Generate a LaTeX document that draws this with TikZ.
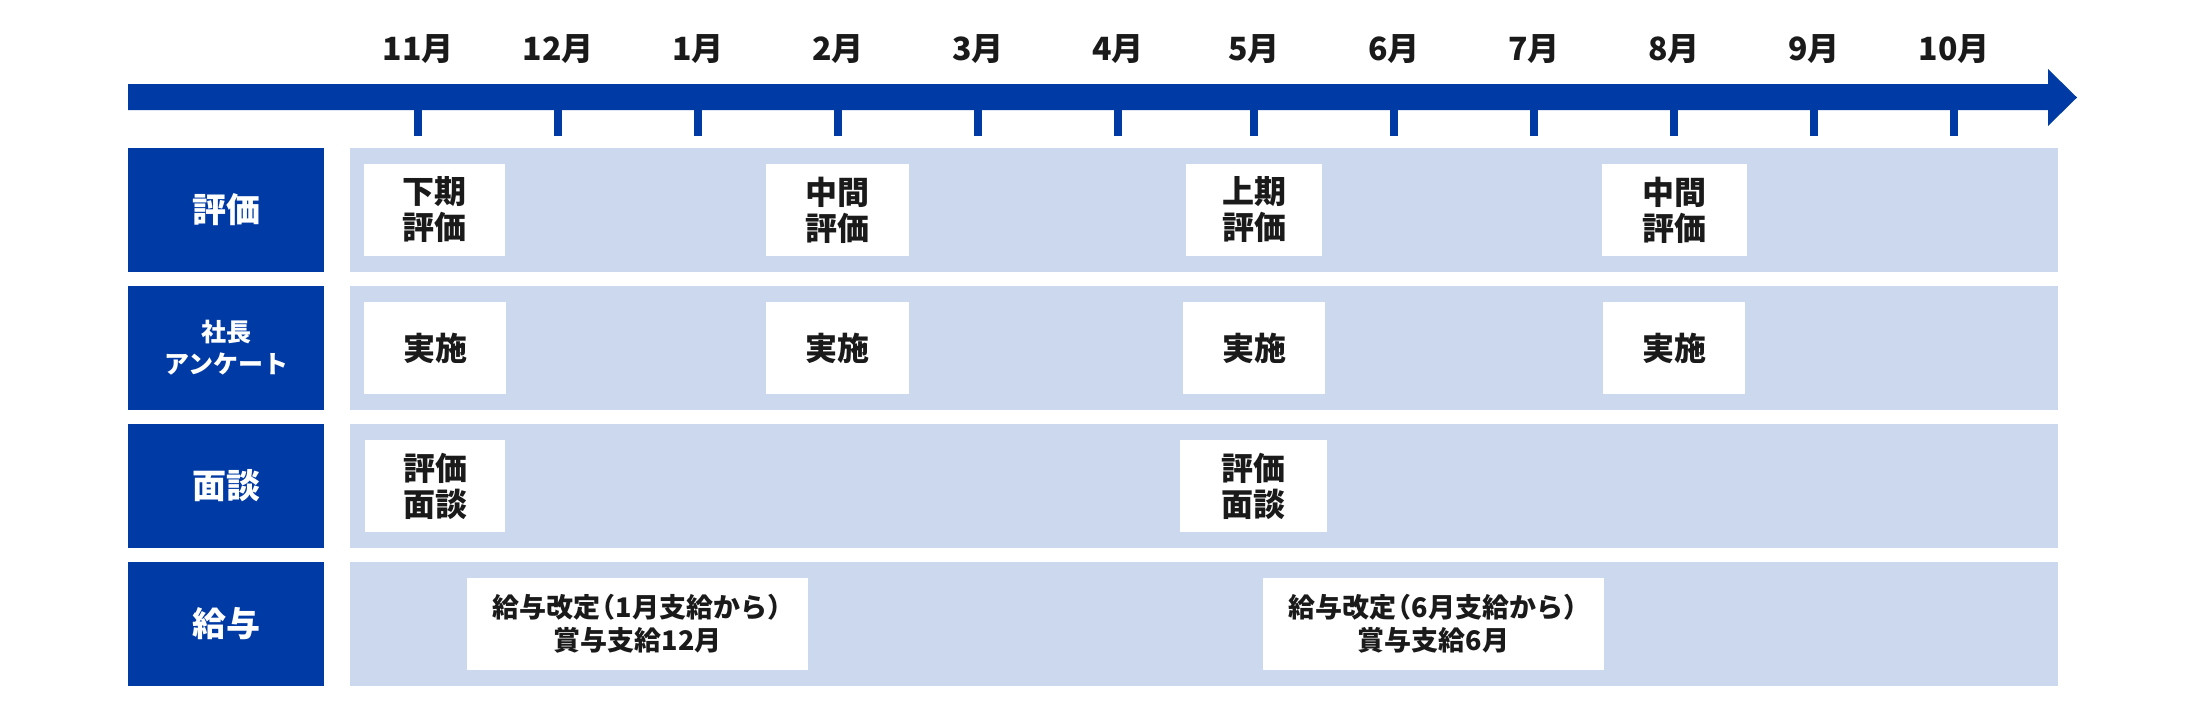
\documentclass[tikz,border=0pt]{standalone}
\usepackage{fontspec}
\setmainfont{Noto Sans CJK JP}
\definecolor{navy}{RGB}{0,58,165}
\definecolor{pale}{RGB}{204,216,237}
\definecolor{ink}{RGB}{26,26,26}
\tikzset{
  lab/.style={fill=navy, text=white, minimum width=196pt, minimum height=124pt, inner sep=0pt, align=center, font=\fontsize{34}{40}\selectfont\bfseries},
  band/.style={fill=pale, minimum width=1708pt, minimum height=124pt, inner sep=0pt},
  evt/.style={fill=white, text=ink, minimum height=92pt, inner sep=0pt, align=center, font=\fontsize{32}{36}\selectfont\bfseries},
  pay/.style={evt, font=\fontsize{27}{33}\selectfont\bfseries, minimum width=341pt},
  mon/.style={text=ink, inner sep=0pt, font=\fontsize{32}{36}\selectfont\bfseries},
  tick/.style={fill=navy},
}
\begin{document}
\begin{tikzpicture}[x=1pt,y=-1pt]
\useasboundingbox (0,0) rectangle (2200,720);
% timeline arrow
\fill[navy] (128,84) -- (2048,84) -- (2048,69) -- (2077,97.5) -- (2048,126) -- (2048,110) -- (128,110) -- cycle;
% ticks and month labels
\foreach \x/\m [count=\i] in {418/11月,558/12月,698/1月,838/2月,978/3月,1118/4月,1254/5月,1394/6月,1534/7月,1674/8月,1814/9月,1954/10月}{
  \fill[tick] (\x-4,106) rectangle (\x+4,136);
  \node[mon] (m\i) at (\x,49) {\m};
}
% row labels
\node[lab] (l1) at (226,210) {評価};
\node[lab, font=\fontsize{25}{32}\selectfont\bfseries] (l2) at (226,348) {社長\\アンケート};
\node[lab] (l3) at (226,486) {面談};
\node[lab] (l4) at (226,624) {給与};
% bands
\node[band] (b1) at (1204,210) {};
\node[band] (b2) at (1204,348) {};
\node[band] (b3) at (1204,486) {};
\node[band] (b4) at (1204,624) {};
% row 1
\node[evt, minimum width=141pt] (e11) at (434.5,210) {下期\\評価};
\node[evt, minimum width=143pt] (e12) at (837.5,210) {中間\\評価};
\node[evt, minimum width=136pt] (e13) at (1254,210) {上期\\評価};
\node[evt, minimum width=145pt] (e14) at (1674.5,210) {中間\\評価};
% row 2
\node[evt, minimum width=142pt] (e21) at (435,348) {実施};
\node[evt, minimum width=143pt] (e22) at (837.5,348) {実施};
\node[evt, minimum width=142pt] (e23) at (1254,348) {実施};
\node[evt, minimum width=142pt] (e24) at (1674,348) {実施};
% row 3
\node[evt, minimum width=140pt] (e31) at (435,486) {評価\\面談};
\node[evt, minimum width=147pt] (e32) at (1253.5,486) {評価\\面談};
% row 4
\node[pay] (e41) at (637.5,624) {給与改定\kern-0.45em（1月支給から）\kern-0.45em\\賞与支給12月};
\node[pay] (e42) at (1433.5,624) {給与改定\kern-0.45em（6月支給から）\kern-0.45em\\賞与支給6月};
\end{tikzpicture}
\end{document}
